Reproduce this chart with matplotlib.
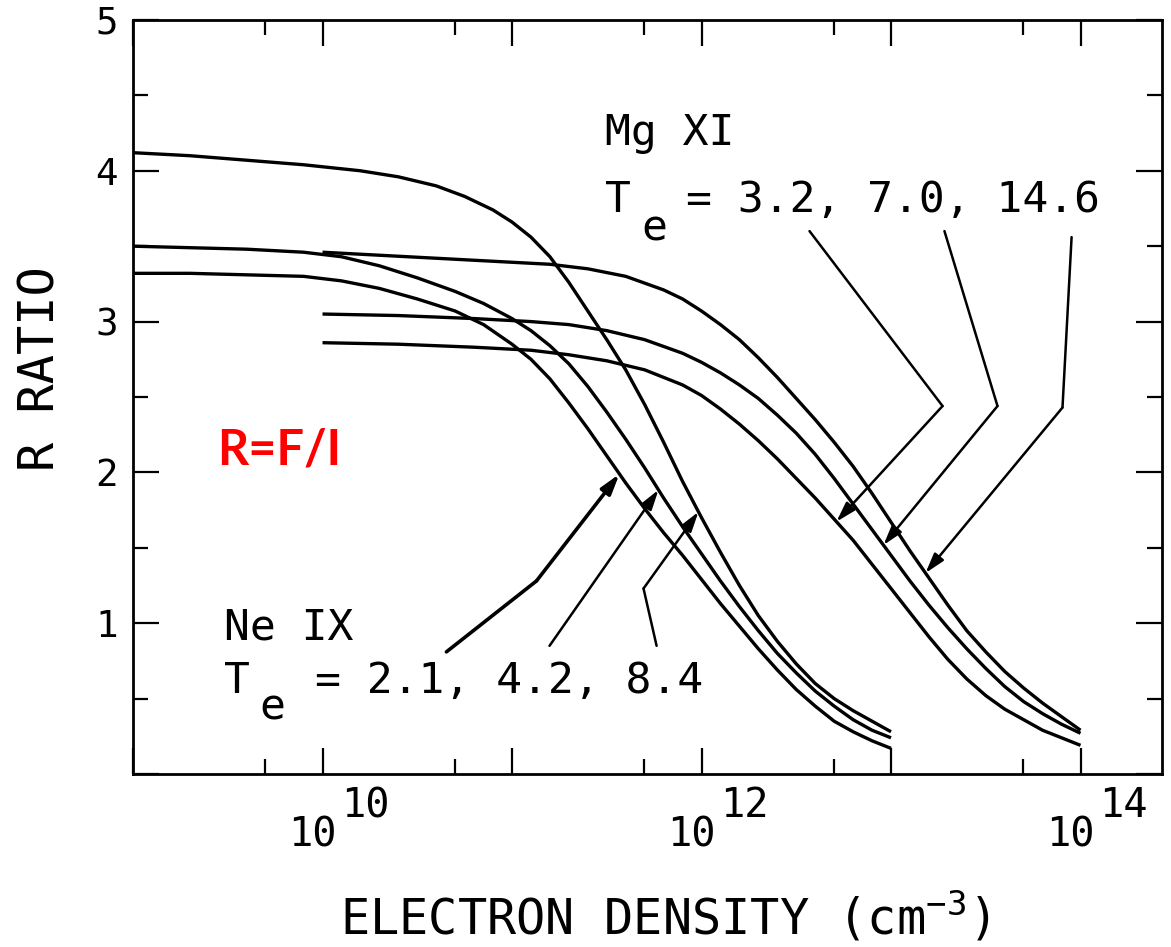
import numpy as np
import matplotlib
matplotlib.use('Agg')
import matplotlib.pyplot as plt
from matplotlib.ticker import FixedLocator, NullFormatter

plt.rcParams['font.family'] = ['DejaVu Sans Mono', 'DejaVu Sans']
plt.rcParams['mathtext.fontset'] = 'custom'
plt.rcParams['mathtext.rm'] = 'DejaVu Sans Mono'
plt.rcParams['mathtext.it'] = 'DejaVu Sans Mono'

# --- data: log10 electron density (cm^-3) and R ratio ---
# Ne IX, T_e = 2.1, 4.2, 8.4
ne_temps = [2.1, 4.2, 8.4]
ne_logn_21 = [9.0, 9.3, 9.6, 9.9, 10.1, 10.3, 10.5, 10.7, 10.85, 11.0, 11.1, 11.2, 11.3, 11.4,
              11.5, 11.6, 11.7, 11.8, 11.9, 12.0, 12.1, 12.2, 12.3, 12.4, 12.5, 12.6, 12.7,
              12.8, 12.9, 13.0]
ne_r_21 = [3.32, 3.32, 3.31, 3.30, 3.27, 3.22, 3.15, 3.07, 2.98, 2.85, 2.75, 2.62, 2.46, 2.29,
           2.11, 1.93, 1.76, 1.60, 1.45, 1.29, 1.13, 0.98, 0.83, 0.69, 0.56, 0.45, 0.35,
           0.28, 0.22, 0.17]
ne_logn_42 = [9.0, 9.3, 9.6, 9.9, 10.1, 10.3, 10.5, 10.7, 10.85, 11.0, 11.1, 11.2, 11.3, 11.4,
              11.5, 11.6, 11.7, 11.8, 11.9, 12.0, 12.1, 12.2, 12.3, 12.4, 12.5, 12.6, 12.7,
              12.8, 12.9, 13.0]
ne_r_42 = [3.50, 3.49, 3.48, 3.46, 3.43, 3.37, 3.29, 3.20, 3.12, 3.02, 2.94, 2.84, 2.72, 2.57,
           2.40, 2.22, 2.03, 1.83, 1.64, 1.46, 1.28, 1.11, 0.95, 0.80, 0.67, 0.55, 0.45,
           0.36, 0.29, 0.24]
ne_logn_84 = [9.0, 9.3, 9.6, 9.9, 10.2, 10.4, 10.6, 10.75, 10.9, 11.0, 11.1, 11.2, 11.3, 11.4,
              11.5, 11.6, 11.7, 11.8, 11.9, 12.0, 12.1, 12.2, 12.3, 12.4, 12.5, 12.6, 12.7,
              12.8, 12.9, 13.0]
ne_r_84 = [4.12, 4.10, 4.07, 4.04, 4.00, 3.96, 3.90, 3.83, 3.74, 3.66, 3.56, 3.43, 3.26, 3.07,
           2.88, 2.68, 2.45, 2.20, 1.94, 1.70, 1.47, 1.25, 1.05, 0.88, 0.73, 0.60, 0.50,
           0.42, 0.35, 0.28]

# Mg XI, T_e = 3.2, 7.0, 14.6
mg_temps = [3.2, 7.0, 14.6]
mg_logn_32 = [10.0, 10.4, 10.8, 11.1, 11.3, 11.5, 11.7, 11.9, 12.0, 12.1, 12.2, 12.3, 12.4,
              12.5, 12.6, 12.7, 12.8, 12.9, 13.0, 13.1, 13.2, 13.3, 13.4, 13.5, 13.6, 13.7,
              13.8, 13.9, 14.0]
mg_r_32 = [2.86, 2.85, 2.83, 2.81, 2.78, 2.74, 2.68, 2.58, 2.51, 2.42, 2.32, 2.21, 2.09,
           1.96, 1.83, 1.69, 1.55, 1.39, 1.23, 1.07, 0.91, 0.76, 0.63, 0.52, 0.43, 0.36,
           0.29, 0.24, 0.19]
mg_logn_70 = [10.0, 10.4, 10.8, 11.1, 11.3, 11.5, 11.7, 11.9, 12.0, 12.1, 12.2, 12.3, 12.4,
              12.5, 12.6, 12.7, 12.8, 12.9, 13.0, 13.1, 13.2, 13.3, 13.4, 13.5, 13.6, 13.7,
              13.8, 13.9, 14.0]
mg_r_70 = [3.05, 3.04, 3.02, 3.00, 2.98, 2.94, 2.88, 2.79, 2.73, 2.66, 2.58, 2.49, 2.38,
           2.26, 2.12, 1.96, 1.79, 1.62, 1.45, 1.28, 1.12, 0.97, 0.83, 0.70, 0.58, 0.48,
           0.40, 0.33, 0.27]
mg_logn_146 = [10.0, 10.3, 10.6, 10.9, 11.2, 11.4, 11.6, 11.8, 11.9, 12.0, 12.1, 12.2, 12.3,
               12.4, 12.5, 12.6, 12.7, 12.8, 12.9, 13.0, 13.1, 13.2, 13.3, 13.4, 13.5, 13.6,
               13.7, 13.8, 13.9, 14.0]
mg_r_146 = [3.46, 3.44, 3.42, 3.40, 3.38, 3.35, 3.30, 3.21, 3.15, 3.07, 2.98, 2.88, 2.76,
            2.63, 2.49, 2.35, 2.20, 2.04, 1.86, 1.67, 1.48, 1.30, 1.12, 0.95, 0.81, 0.68,
            0.57, 0.47, 0.38, 0.29]

ne_curves = [(ne_logn_21, ne_r_21), (ne_logn_42, ne_r_42), (ne_logn_84, ne_r_84)]
mg_curves = [(mg_logn_32, mg_r_32), (mg_logn_70, mg_r_70), (mg_logn_146, mg_r_146)]

decade_exps = [9, 10, 11, 12, 13, 14]
label_exps = [10, 12, 14]
y_ticks = [0, 1, 2, 3, 4, 5]
y_ticklabels = ['', '1', '2', '3', '4', '5']

# leader lines: (tail, bend, tip log n, width) per curve
ne_leaders = [((10.654, 0.81), (11.129, 1.28), 11.567, 2.6),
              ((11.198, 0.85), None, 11.773, 1.8),
              ((11.763, 0.85), (11.694, 1.23), 11.984, 1.8)]
mg_leaders = [((12.570, 3.60), (13.272, 2.44), 12.712, 1.8),
              ((13.282, 3.60), (13.562, 2.44), 12.960, 1.8),
              ((13.953, 3.56), (13.905, 2.43), 13.182, 1.8)]

fig = plt.figure(figsize=(11.71, 9.47), dpi=100)
ax = fig.add_axes([0.1136, 0.1827, 0.8787, 0.7962])

for logn, r in ne_curves + mg_curves:
    ax.plot(10.0 ** np.array(logn), r, color='black', lw=2.4,
            solid_capstyle='butt', solid_joinstyle='round')


def leader(curve, tail, bend, tip_x, lw):
    logn, r = curve
    tip = (10.0 ** tip_x, np.interp(tip_x, logn, r))
    start = tail
    if bend is not None:
        ax.annotate('', xy=(10.0 ** bend[0], bend[1]), xytext=(10.0 ** tail[0], tail[1]),
                    arrowprops=dict(arrowstyle='-', lw=lw, color='black',
                                    shrinkA=0, shrinkB=0))
        start = bend
    ax.annotate('', xy=tip, xytext=(10.0 ** start[0], start[1]),
                arrowprops=dict(arrowstyle='-|>,head_length=0.6,head_width=0.18',
                                lw=lw, color='black', mutation_scale=20,
                                shrinkA=0, shrinkB=0))


for curve, (tail, bend, tip_x, lw) in zip(ne_curves, ne_leaders):
    leader(curve, tail, bend, tip_x, lw)
for curve, (tail, bend, tip_x, lw) in zip(mg_curves, mg_leaders):
    leader(curve, tail, bend, tip_x, lw)

ax.set_xscale('log')
ax.set_xlim(1e9, 10 ** 14.43)
ax.set_ylim(0, 5)

ax.xaxis.set_major_locator(FixedLocator([10.0 ** e for e in decade_exps]))
ax.xaxis.set_minor_locator(FixedLocator([5 * 10.0 ** e for e in decade_exps[:-1]]))
ax.xaxis.set_major_formatter(NullFormatter())
ax.xaxis.set_minor_formatter(NullFormatter())
ax.set_yticks(y_ticks)
ax.set_yticklabels(y_ticklabels)
ax.set_yticks(np.arange(0.5, 5, 1.0), minor=True)

ax.tick_params(which='both', direction='in', top=True, right=True, width=1.6)
ax.tick_params(which='major', length=19)
ax.tick_params(which='minor', length=11)
ax.tick_params(axis='y', labelsize=27, pad=11)
for s in ax.spines.values():
    s.set_linewidth(2.0)

# decade labels, exponent drawn full size like the original
for e in label_exps:
    ax.annotate('10', xy=(10.0 ** e, 0), xycoords=('data', 'axes fraction'),
                xytext=(10.5, -52), textcoords='offset points',
                ha='right', va='baseline', fontsize=29, annotation_clip=False)
    ax.annotate(str(e), xy=(10.0 ** e, 0), xycoords=('data', 'axes fraction'),
                xytext=(13.5, -31), textcoords='offset points',
                ha='left', va='baseline', fontsize=29, annotation_clip=False)

ax.set_xlabel(r'ELECTRON DENSITY (cm$^{-3}$)', fontsize=35, ha='center', va='baseline')
ax.xaxis.set_label_coords(0.517, -0.2125)
ax.set_ylabel('R RATIO', fontsize=35, ha='center', va='center')
ax.yaxis.set_label_coords(-0.0904, 0.537)

# ion annotations
ax.text(0.4587, 0.834, 'Mg XI', transform=ax.transAxes, fontsize=31, va='baseline')
ax.text(0.4587, 0.745, 'T', transform=ax.transAxes, fontsize=31, va='baseline')
ax.text(0.4937, 0.708, 'e', transform=ax.transAxes, fontsize=31, va='baseline')
ax.text(0.537, 0.745, '= ' + ', '.join(f'{t:.1f}' for t in mg_temps),
        transform=ax.transAxes, fontsize=31, va='baseline')

ax.text(0.0885, 0.178, 'Ne IX', transform=ax.transAxes, fontsize=31, va='baseline')
ax.text(0.0885, 0.107, 'T', transform=ax.transAxes, fontsize=31, va='baseline')
ax.text(0.123, 0.0716, 'e', transform=ax.transAxes, fontsize=31, va='baseline')
ax.text(0.177, 0.107, '= ' + ', '.join(f'{t:.1f}' for t in ne_temps),
        transform=ax.transAxes, fontsize=31, va='baseline')

ax.text(0.0816, 0.411, 'R=F/I', transform=ax.transAxes, color='red', fontsize=35,
        fontweight='bold', family=['Lato', 'DejaVu Sans'], va='baseline')

fig.savefig('out.png', dpi=100)
